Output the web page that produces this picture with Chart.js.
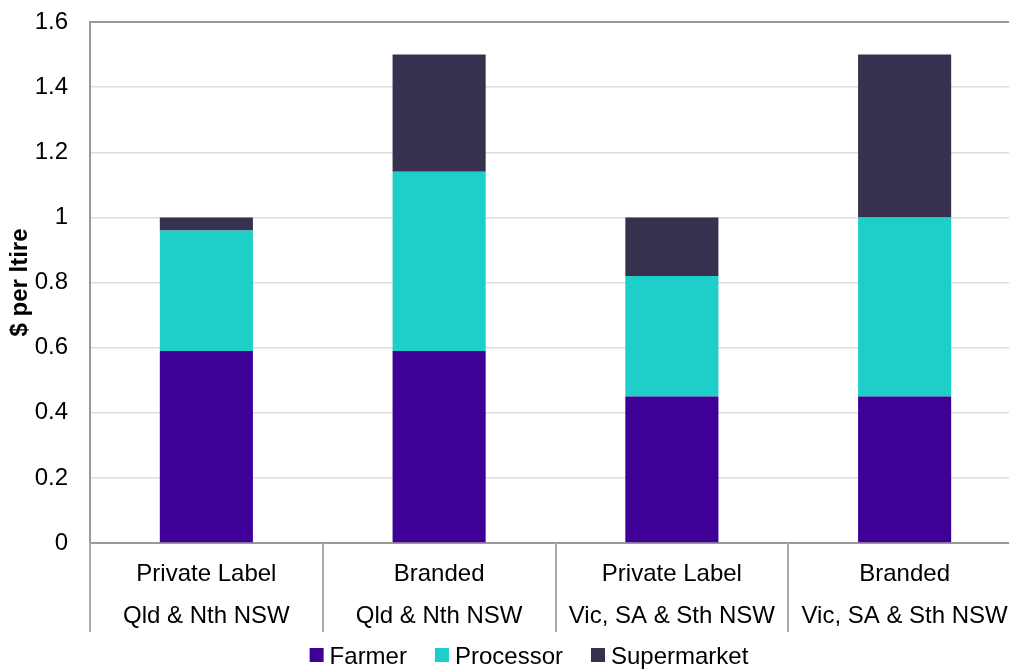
<!DOCTYPE html>
<html>
<head>
<meta charset="utf-8">
<script src="https://cdn.jsdelivr.net/npm/chart.js@4/dist/chart.umd.min.js"></script>
<style>
  html, body { margin: 0; padding: 0; background: #fff; overflow: hidden; }
  #wrap { width: 1022px; height: 669px; }
</style>
</head>
<body>
<div id="wrap"><canvas id="milkChart" width="1022" height="669"></canvas></div>
<script>
  // data
  const categories = [
    ['Private Label', 'Qld & Nth NSW'],
    ['Branded', 'Qld & Nth NSW'],
    ['Private Label', 'Vic, SA & Sth NSW'],
    ['Branded', 'Vic, SA & Sth NSW']
  ];
  const farmer      = [0.59, 0.59, 0.45, 0.45];
  const processor   = [0.37, 0.55, 0.37, 0.55];
  const supermarket = [0.04, 0.36, 0.18, 0.50];

  const yTicks      = [0, 0.2, 0.4, 0.6, 0.8, 1.0, 1.2, 1.4, 1.6];
  const yTickLabels = ['0', '0.2', '0.4', '0.6', '0.8', '1', '1.2', '1.4', '1.6'];

  const FONT = "'Liberation Sans', Arial, sans-serif";

  // category divider lines hanging below the x axis
  const categoryDividers = {
    id: 'categoryDividers',
    afterDraw(chart, args, opts) {
      const xs = chart.scales.x, ctx = chart.ctx;
      const top = chart.chartArea.bottom;
      ctx.save();
      ctx.strokeStyle = opts.color;
      ctx.lineWidth = opts.width;
      for (let i = 0; i <= categories.length; i++) {
        const x = Math.round(xs.getPixelForValue(i - 0.5));
        ctx.beginPath();
        ctx.moveTo(x, top);
        ctx.lineTo(x, top + opts.length);
        ctx.stroke();
      }
      ctx.restore();
    }
  };

  // simple legend drawn under the axis
  const bottomLegend = {
    id: 'bottomLegend',
    afterDraw(chart, args, opts) {
      const ctx = chart.ctx;
      const box = opts.boxSize, gap = opts.boxGap, spacing = opts.itemGap;
      ctx.save();
      ctx.font = opts.fontSize + 'px ' + FONT;
      ctx.textBaseline = 'middle';
      const items = chart.data.datasets.map(ds => ({
        text: ds.label, color: ds.backgroundColor, w: ctx.measureText(ds.label).width
      }));
      let total = 0;
      items.forEach((it, i) => { total += box + gap + it.w + (i ? spacing : 0); });
      let x = opts.centerX - total / 2;
      items.forEach(it => {
        ctx.fillStyle = it.color;
        ctx.fillRect(x, opts.y - box / 2 - 2, box, box);
        ctx.fillStyle = '#000';
        ctx.fillText(it.text, x + box + gap, opts.y);
        x += box + gap + it.w + spacing;
      });
      ctx.restore();
    }
  };

  Chart.defaults.font.family = FONT;
  Chart.defaults.color = '#000';

  new Chart(document.getElementById('milkChart'), {
    type: 'bar',
    data: {
      labels: categories,
      datasets: [
        { label: 'Farmer', data: farmer, backgroundColor: '#3F0098' },
        { label: 'Processor', data: processor, backgroundColor: '#1ECFC9' },
        { label: 'Supermarket', data: supermarket, backgroundColor: '#37304F' }
      ]
    },
    options: {
      responsive: false,
      animation: false,
      devicePixelRatio: 1,
      barPercentage: 0.4,
      categoryPercentage: 1,
      layout: { padding: { top: 22, right: 1, bottom: 33, left: 0 } },
      plugins: {
        legend: { display: false },
        tooltip: { enabled: false },
        categoryDividers: { color: '#aaa', width: 2, length: 89 },
        bottomLegend: { centerX: 529, y: 657, fontSize: 24, boxSize: 14, boxGap: 6, itemGap: 28 }
      },
      scales: {
        x: {
          stacked: true,
          afterFit: scale => { scale.height = 93; },
          border: { color: '#999', width: 2 },
          grid: { display: false },
          ticks: {
            font: { size: 24, lineHeight: 1.75 },
            padding: 2,
            maxRotation: 0,
            autoSkip: false
          }
        },
        y: {
          stacked: true,
          min: 0,
          max: 1.6,
          afterFit: scale => {
            scale.width = 90;
            scale.paddingTop = 0;
            scale.paddingBottom = 0;
          },
          border: { color: '#999', width: 2 },
          afterBuildTicks: scale => { scale.ticks = yTicks.map(v => ({ value: v })); },
          grid: {
            drawTicks: false,
            color: ctx => (ctx.tick && ctx.tick.value === 1.6) ? '#999' : '#ddd',
            lineWidth: ctx => (ctx.tick && ctx.tick.value === 1.6) ? 2 : 1.5
          },
          ticks: {
            font: { size: 24 },
            padding: 22,
            callback: (val) => {
              const i = yTicks.findIndex(t => Math.abs(t - val) < 1e-6);
              return i >= 0 ? yTickLabels[i] : '';
            }
          },
          title: {
            display: true,
            text: '$ per ltire',
            font: { size: 24, weight: 'bold' },
            padding: { top: 6, bottom: 0 }
          }
        }
      }
    },
    plugins: [categoryDividers, bottomLegend]
  });
</script>
</body>
</html>
